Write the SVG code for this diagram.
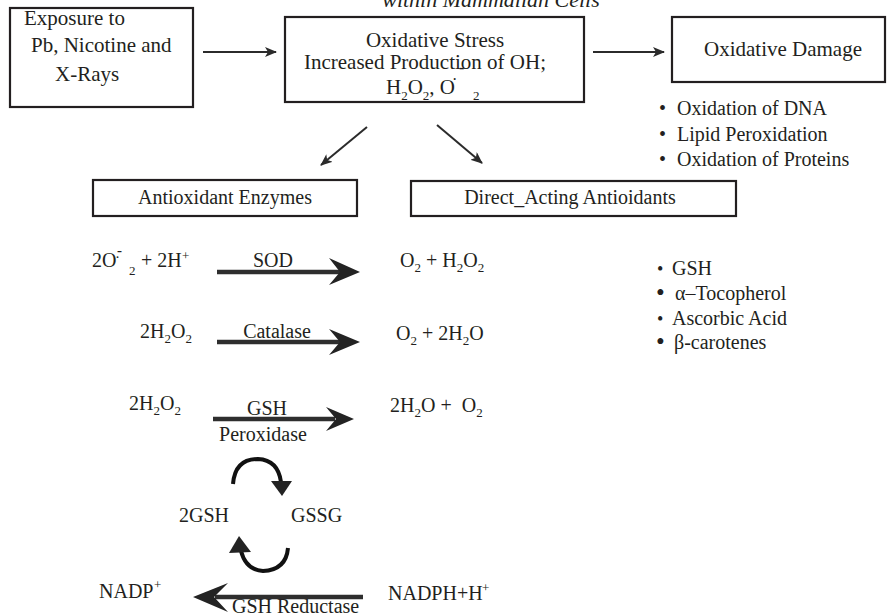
<svg xmlns="http://www.w3.org/2000/svg" width="887" height="614" viewBox="0 0 887 614">
<defs>
<style>
text{font-family:"Liberation Serif","Times New Roman",serif;font-size:20px;fill:#231f20}
.big{font-size:21px}
.sub{font-size:13px}
.mid{text-anchor:middle}
.box{fill:#fff;stroke:#231f20;stroke-width:2.2}
.ln{stroke:#2b2b2b;stroke-width:2;fill:none}
.shaft{stroke:#2e2e2e;stroke-width:4.5;fill:none}
.head{fill:#232323}
.curve{stroke:#111;stroke-width:4;fill:none}
</style>
<marker id="ah" viewBox="0 0 12 10" refX="11" refY="5" markerWidth="12" markerHeight="10" markerUnits="userSpaceOnUse" orient="auto">
<path d="M0,0 L12,5 L0,10 L3,5 z" fill="#2b2b2b"/>
</marker>
</defs>
<rect width="887" height="614" fill="#fff"/>

<text x="491" y="7" class="mid" style="font-style:italic;font-size:22px">within Mammalian Cells</text>

<g id="connectors">
<line class="ln" x1="203" y1="52" x2="276" y2="52" marker-end="url(#ah)"/>
<line class="ln" x1="593" y1="52" x2="664" y2="52" marker-end="url(#ah)"/>
<line class="ln" x1="367" y1="127" x2="321" y2="165" marker-end="url(#ah)"/>
<line class="ln" x1="437" y1="125" x2="482" y2="163" marker-end="url(#ah)"/>
<line class="shaft" x1="217" y1="272" x2="340" y2="272"/>
<path class="head" d="M360,272 L329,258 L340,272 L329,285 z"/>
<line class="shaft" x1="217" y1="342" x2="340" y2="342"/>
<path class="head" d="M360,342 L329,329 L340,342 L329,355 z"/>
<line class="shaft" x1="213" y1="419" x2="335" y2="419"/>
<path class="head" d="M354,419 L326,407 L336,419 L326,431 z"/>
<line class="shaft" x1="363" y1="597" x2="215" y2="597"/>
<path class="head" d="M193,597 L228,583 L214,597 L228,612 z"/>
<path class="curve" d="M233,484 Q235,459 258,459 Q278,460 281,482"/>
<path class="head" d="M271,481 L292,481 L282,496 z" fill="#111"/>
<path class="curve" d="M288,548 Q286,570 263,571 Q246,570 241,551"/>
<path class="head" d="M239,536 L251,552 L229,553 z" fill="#111"/>
</g>

<g id="exposure">
<rect class="box" x="10" y="8" width="183" height="99"/>
<text class="big" x="24" y="25">Exposure to</text>
<text class="big" x="31" y="52">Pb, Nicotine and</text>
<text class="big" x="55" y="81">X-Rays</text>
</g>

<g id="oxidative-stress">
<rect class="box" x="285" y="17" width="299" height="85"/>
<text class="big mid" x="435" y="47">Oxidative Stress</text>
<text class="big mid" x="425" y="69">Increased Production of OH;</text>
<text class="big" x="386" y="94">H<tspan class="sub" dy="6">2</tspan><tspan dy="-6">O</tspan><tspan class="sub" dy="6">2</tspan><tspan dy="-6">, O</tspan></text>
<text x="452" y="85" style="font-size:16px">·</text>
<text x="459" y="73" style="font-size:16px;font-weight:bold">-</text>
<text class="sub" x="473" y="100">2</text>
</g>

<g id="oxidative-damage">
<rect class="box" x="672" y="17" width="213" height="65"/>
<text class="big mid" x="783" y="56">Oxidative Damage</text>
<text x="659" y="115">•</text><text x="677" y="115">Oxidation of DNA</text>
<text x="659" y="141">•</text><text x="677" y="141">Lipid Peroxidation</text>
<text x="659" y="166">•</text><text x="677" y="166">Oxidation of Proteins</text>
</g>

<g id="antioxidant-enzymes">
<rect class="box" x="93" y="180" width="264" height="36"/>
<text class="mid" x="225" y="204">Antioxidant Enzymes</text>
</g>

<g id="direct-acting">
<rect class="box" x="411" y="181" width="325" height="35"/>
<text class="mid" x="570" y="204">Direct_Acting Antioidants</text>
<text x="657" y="275" style="font-size:18px">•</text><text x="672" y="275">GSH</text>
<text x="656" y="301" style="font-size:25px">•</text><text x="675" y="300">α–Tocopherol</text>
<text x="657" y="325" style="font-size:18px">•</text><text x="672" y="325">Ascorbic Acid</text>
<text x="656" y="350" style="font-size:25px">•</text><text x="674" y="349">β-carotenes</text>
</g>

<g id="sod-reaction">
<text x="92" y="267">2O</text>
<text x="115" y="262" style="font-size:15px">·</text>
<text x="117" y="255" style="font-size:15px;font-weight:bold">-</text>
<text class="sub" x="129" y="275">2</text>
<text x="141" y="267">+ 2H</text>
<text class="sub" x="182" y="260">+</text>
<text class="mid" x="273" y="267">SOD</text>
<text x="400" y="267">O<tspan class="sub" dy="5">2</tspan><tspan dy="-5"> + H</tspan><tspan class="sub" dy="5">2</tspan><tspan dy="-5">O</tspan><tspan class="sub" dy="5">2</tspan></text>
</g>

<g id="catalase-reaction">
<text x="140" y="338">2H<tspan class="sub" dy="5">2</tspan><tspan dy="-5">O</tspan><tspan class="sub" dy="5">2</tspan></text>
<text class="mid" x="277" y="338">Catalase</text>
<text x="396" y="340">O<tspan class="sub" dy="5">2</tspan><tspan dy="-5"> + 2H</tspan><tspan class="sub" dy="5">2</tspan><tspan dy="-5">O</tspan></text>
</g>

<g id="gpx-reaction">
<text x="129" y="410">2H<tspan class="sub" dy="5">2</tspan><tspan dy="-5">O</tspan><tspan class="sub" dy="5">2</tspan></text>
<text class="mid" x="267" y="415">GSH</text>
<text class="mid" x="263" y="441">Peroxidase</text>
<text x="390" y="412">2H<tspan class="sub" dy="5">2</tspan><tspan dy="-5">O +</tspan><tspan dx="10">O</tspan><tspan class="sub" dy="5">2</tspan></text>
</g>

<g id="glutathione-cycle">
<text x="179" y="522">2GSH</text>
<text x="291" y="522">GSSG</text>
</g>

<g id="reductase-reaction">
<text x="99" y="598">NADP</text>
<text class="sub" x="154" y="589">+</text>
<text x="232" y="613">GSH Reductase</text>
<text x="388" y="600">NADPH+H</text>
<text class="sub" x="482" y="592">+</text>
</g>
</svg>
